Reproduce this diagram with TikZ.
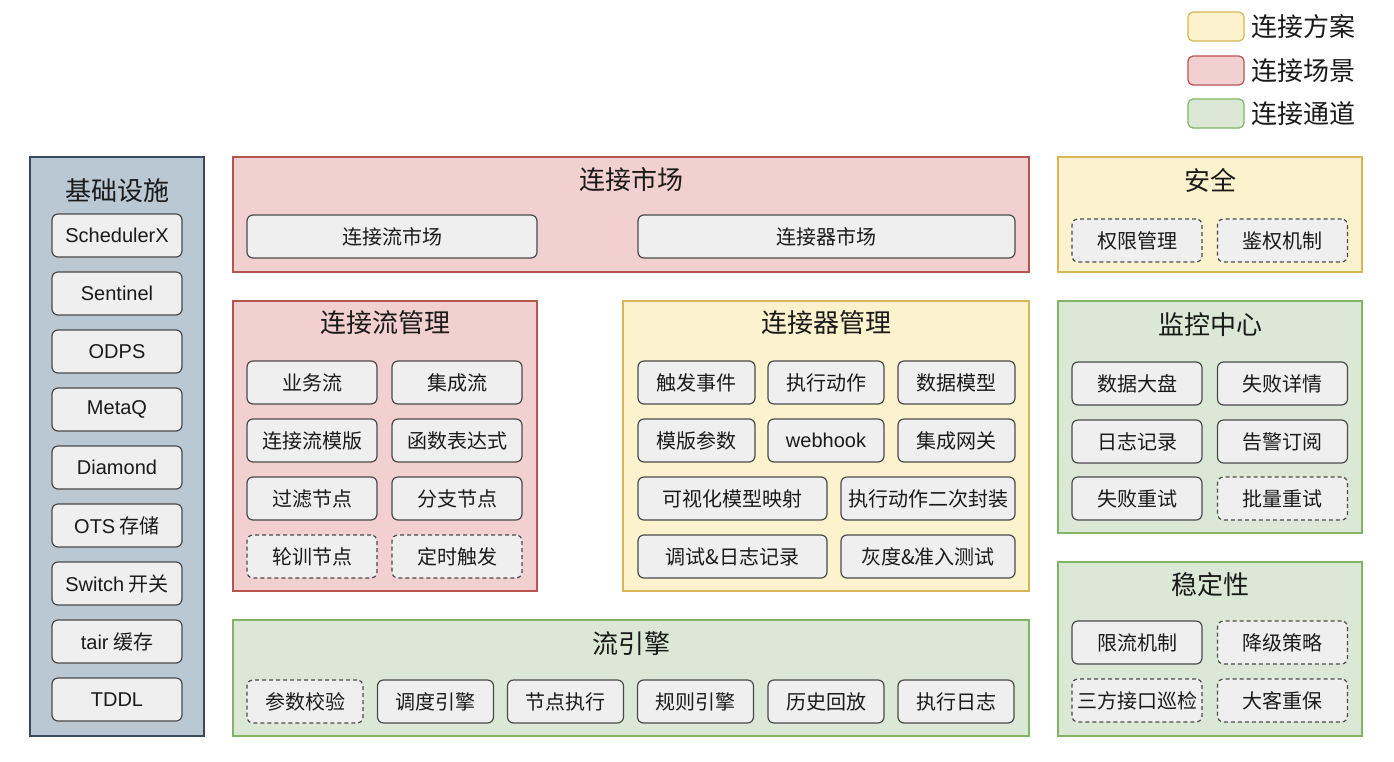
\documentclass[tikz,border=0pt]{standalone}
\usepackage{fontspec}
\setmainfont{Noto Sans CJK SC}
\newfontfamily\latin{Liberation Sans}
\definecolor{yelfill}{HTML}{FDF2CE}
\definecolor{yelline}{HTML}{D6B656}
\definecolor{redfill}{HTML}{F2D0CF}
\definecolor{redline}{HTML}{B85450}
\definecolor{grnfill}{HTML}{DAE8D5}
\definecolor{grnline}{HTML}{82B366}
\definecolor{infrafill}{HTML}{BAC8D3}
\definecolor{infraline}{HTML}{3A4A5C}
\definecolor{itemfill}{HTML}{EFEFEF}
\definecolor{itemline}{HTML}{4A4A4A}
\definecolor{txt}{HTML}{1A1A1A}
\begin{document}
\begin{tikzpicture}[
			x=1pt, y=-1pt,
			every node/.style={text=txt},
			panel/.style={draw, line width=1.2pt, inner sep=0pt},
			yelpanel/.style={panel, fill=yelfill, draw=yelline},
			redpanel/.style={panel, fill=redfill, draw=redline},
			grnpanel/.style={panel, fill=grnfill, draw=grnline},
			title/.style={font=\fontsize{26}{29}\selectfont},
			item/.style={draw=itemline, fill=itemfill, line width=1.2pt, rounded corners=6pt, minimum height=43pt, inner sep=0pt, font=\fontsize{20}{23}\selectfont},
			itemdash/.style={item, dash pattern=on 4pt off 3pt},
			legbox/.style={draw, line width=1.2pt, rounded corners=5pt, minimum width=56pt, minimum height=29pt}
			]
			\useasboundingbox (0,0) rectangle (1394,761);
			
			% Legend
			\node (leg1) [legbox, fill=yelfill, draw=yelline] at (1216,26.5) {};
			\node (leg2) [legbox, fill=redfill, draw=redline] at (1216,70.5) {};
			\node (leg3) [legbox, fill=grnfill, draw=grnline] at (1216,113.5) {};
			\node (leg1t) [title, anchor=west, inner sep=0pt] at (1251,26.5) {连接方案};
			\node (leg2t) [title, anchor=west, inner sep=0pt] at (1251,70.5) {连接场景};
			\node (leg3t) [title, anchor=west, inner sep=0pt] at (1251,113.5) {连接通道};
			
			% Infrastructure
			\node (infra) [panel, fill=infrafill, draw=infraline, minimum width=174pt, minimum height=579pt] at (117,446.5) {};
			\node (infra_t) [title] at (117,191) {基础设施};
			\foreach \t [count=\k] in {{\latin SchedulerX}, {\latin Sentinel}, {\latin ODPS}, {\latin MetaQ}, {\latin Diamond}, {{\latin OTS} 存储}, {{\latin Switch} 开关}, {{\latin tair} 缓存}, {\latin TDDL}}
				\node (infra\k) [item, minimum width=130pt] at (117,{235.5+58*(\k-1)}) {\t};
			
			% Market
			\node (market) [redpanel, minimum width=796pt, minimum height=115pt] at (631,214.5) {};
			\node (market_t) [title] at (631,180) {连接市场};
			\node (flow_mkt) [item, minimum width=290pt] at (392,236.5) {连接流市场};
			\node (conn_mkt) [item, minimum width=377pt] at (826.5,236.5) {连接器市场};
			
			% Security
			\node (sec) [yelpanel, minimum width=304pt, minimum height=115pt] at (1210,214.5) {};
			\node (sec_t) [title] at (1210,180) {安全};
			\node (perm) [itemdash, minimum width=130pt] at (1137,240.5) {权限管理};
			\node (auth) [itemdash, minimum width=130pt] at (1282.5,240.5) {鉴权机制};
			
			% Flow management
			\node (flowmgmt) [redpanel, minimum width=304pt, minimum height=290pt] at (385,446) {};
			\node (flowmgmt_t) [title] at (385,323) {连接流管理};
			\node (biz) [item, minimum width=130pt] at (312,382.5) {业务流};
			\node (integ) [item, minimum width=130pt] at (457,382.5) {集成流};
			\node (tmpl) [item, minimum width=130pt] at (312,440.5) {连接流模版};
			\node (func) [item, minimum width=130pt] at (457,440.5) {函数表达式};
			\node (filter) [item, minimum width=130pt] at (312,498.5) {过滤节点};
			\node (branch) [item, minimum width=130pt] at (457,498.5) {分支节点};
			\node (poll) [itemdash, minimum width=130pt] at (312,556.5) {轮训节点};
			\node (timer) [itemdash, minimum width=130pt] at (457,556.5) {定时触发};
			
			% Connector management
			\node (connmgmt) [yelpanel, minimum width=406pt, minimum height=290pt] at (826,446) {};
			\node (connmgmt_t) [title] at (826,323) {连接器管理};
			\node (trigger) [item, minimum width=117pt] at (696.5,382.5) {触发事件};
			\node (action) [item, minimum width=116pt] at (826,382.5) {执行动作};
			\node (model) [item, minimum width=117pt] at (956.5,382.5) {数据模型};
			\node (param) [item, minimum width=117pt] at (696.5,440.5) {模版参数};
			\node (hook) [item, minimum width=116pt] at (826,440.5) {\latin webhook};
			\node (gateway) [item, minimum width=117pt] at (956.5,440.5) {集成网关};
			\node (mapping) [item, minimum width=189pt] at (732.5,498.5) {可视化模型映射};
			\node (wrap) [item, minimum width=174pt] at (928,498.5) {执行动作二次封装};
			\node (debug) [item, minimum width=189pt] at (732.5,556.5) {调试\&日志记录};
			\node (gray) [item, minimum width=174pt] at (928,556.5) {灰度\&准入测试};
			
			% Flow engine
			\node (engine) [grnpanel, minimum width=796pt, minimum height=116pt] at (631,678) {};
			\node (engine_t) [title] at (631,644) {流引擎};
			\node (check) [itemdash, minimum width=116pt] at (305,701.5) {参数校验};
			\node (sched) [item, minimum width=116pt] at (435.5,701.5) {调度引擎};
			\node (exec) [item, minimum width=116pt] at (565.5,701.5) {节点执行};
			\node (rule) [item, minimum width=116pt] at (695.5,701.5) {规则引擎};
			\node (replay) [item, minimum width=116pt] at (826,701.5) {历史回放};
			\node (log) [item, minimum width=116pt] at (956,701.5) {执行日志};
			
			% Monitoring
			\node (monitor) [grnpanel, minimum width=304pt, minimum height=232pt] at (1210,417) {};
			\node (monitor_t) [title] at (1210,325) {监控中心};
			\node (dash) [item, minimum width=130pt] at (1137,383.5) {数据大盘};
			\node (faildet) [item, minimum width=130pt] at (1282.5,383.5) {失败详情};
			\node (logrec) [item, minimum width=130pt] at (1137,441.5) {日志记录};
			\node (alarm) [item, minimum width=130pt] at (1282.5,441.5) {告警订阅};
			\node (retry) [item, minimum width=130pt] at (1137,498.5) {失败重试};
			\node (batch) [itemdash, minimum width=130pt] at (1282.5,498.5) {批量重试};
			
			% Stability
			\node (stable) [grnpanel, minimum width=304pt, minimum height=174pt] at (1210,649) {};
			\node (stable_t) [title] at (1210,585) {稳定性};
			\node (limit) [item, minimum width=130pt] at (1137,642.5) {限流机制};
			\node (degrade) [itemdash, minimum width=130pt] at (1282.5,642.5) {降级策略};
			\node (patrol) [itemdash, minimum width=130pt] at (1137,700.5) {三方接口巡检};
			\node (vip) [itemdash, minimum width=130pt] at (1282.5,700.5) {大客重保};
		\end{tikzpicture}
\end{document}
